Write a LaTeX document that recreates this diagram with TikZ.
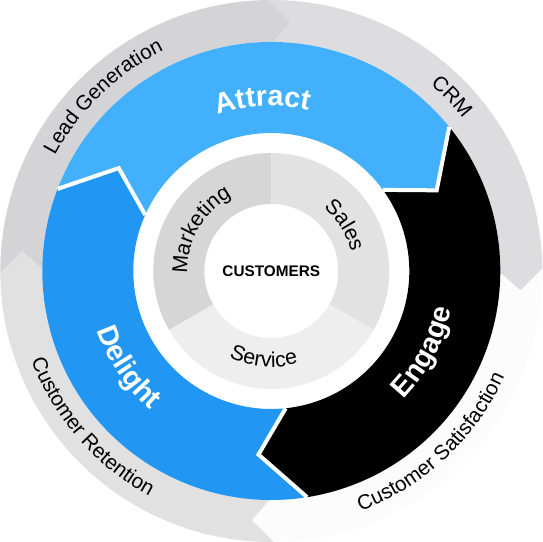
\documentclass[tikz,border=0pt]{standalone}
\usepackage{fontspec}
\setmainfont{Liberation Sans}
\usetikzlibrary{decorations.text}
\newcommand{\bigfont}{\fontsize{21.5}{25}\selectfont\bfseries}
\newcommand{\ringfont}{\fontsize{15.5}{18}\selectfont}
\newcommand{\hubfont}{\fontsize{16}{19}\selectfont}

\begin{document}
\begin{tikzpicture}[x=0.75pt,y=0.75pt,
  sepline/.style={draw=white, line width=3pt, line join=miter},
  arclabel/.style={decorate, decoration={text along path, text align=center, text={#1}}},
  whitelabel/.style={decorate, decoration={text along path, text align=center, text color=white, text={#1}}}]
	%set diagram size to 543 x 542, centre of the rings at (0,0)
	\useasboundingbox (-271.3,-271) rectangle (271.7,271);
	\fill[white] (-271.3,-271) rectangle (271.7,271);

	%Shape: Outer arrow [id:lead]
	\fill [color={rgb, 255:red, 212; green, 212; blue, 214 }] (180.5:271) arc[start angle=180.5, end angle=90.5, radius=271] -- (85.5:250) -- (89.5:229) arc[start angle=89.5, end angle=179.5, radius=229] -- (175.5:250) -- cycle ;
	%Shape: Outer arrow [id:crm]
	\fill [color={rgb, 255:red, 221; green, 221; blue, 223 }] (90.5:271) arc[start angle=90.5, end angle=0.5, radius=271] -- (-4.5:250) -- (-0.5:229) arc[start angle=-0.5, end angle=89.5, radius=229] -- (85.5:250) -- cycle ;
	%Shape: Outer arrow [id:satisfaction]
	\fill [color={rgb, 255:red, 252; green, 252; blue, 252 }] (0.5:271) arc[start angle=0.5, end angle=-89.5, radius=271] -- (-94.5:250) -- (-90.5:229) arc[start angle=-90.5, end angle=-0.5, radius=229] -- (-4.5:250) -- cycle ;
	%Shape: Outer arrow [id:retention]
	\fill [color={rgb, 255:red, 225; green, 225; blue, 225 }] (-89.5:271) arc[start angle=-89.5, end angle=-179.5, radius=271] -- (-184.5:250) -- (-180.5:229) arc[start angle=-180.5, end angle=-90.5, radius=229] -- (-94.5:250) -- cycle ;

	%Shape: Ring arrow [id:attract]
	\fill [color={rgb, 255:red, 66; green, 176; blue, 252 }] (159:229) arc[start angle=159, end angle=39, radius=229] -- (26:184) -- (36:138) arc[start angle=36, end angle=156, radius=138] -- (146:184) -- cycle ;
	%Shape: Ring arrow [id:engage]
	\fill [color=black] (39:229) arc[start angle=39, end angle=-81, radius=229] -- (-94:184) -- (-84:138) arc[start angle=-84, end angle=36, radius=138] -- (26:184) -- cycle ;
	%Shape: Ring arrow [id:delight]
	\fill [color={rgb, 255:red, 33; green, 150; blue, 243 }] (-81:229) arc[start angle=-81, end angle=-201, radius=229] -- (-214:184) -- (-204:138) arc[start angle=-204, end angle=-84, radius=138] -- (-94:184) -- cycle ;
	%Straight Lines [id:gaps]
	\draw [sepline] (159:229) -- (146:184) -- (156:138) ;
	\draw [sepline] (39:229) -- (26:184) -- (36:138) ;
	\draw [sepline] (-81:229) -- (-94:184) -- (-84:138) ;

	%Shape: Inner sector [id:marketing]
	\fill [color={rgb, 255:red, 214; green, 214; blue, 214 }] (90:118) arc[start angle=90, end angle=210, radius=118] -- (210:67) arc[start angle=210, end angle=90, radius=67] -- cycle ;
	%Shape: Inner sector [id:sales]
	\fill [color={rgb, 255:red, 226; green, 226; blue, 226 }] (-30:118) arc[start angle=-30, end angle=90, radius=118] -- (90:67) arc[start angle=90, end angle=-30, radius=67] -- cycle ;
	%Shape: Inner sector [id:service]
	\fill [color={rgb, 255:red, 238; green, 238; blue, 238 }] (210:118) arc[start angle=210, end angle=330, radius=118] -- (330:67) arc[start angle=330, end angle=210, radius=67] -- cycle ;

	% Text Node
	\node [font=\fontsize{11.5}{14}\selectfont\bfseries] (customers) at (0,0) {CUSTOMERS};

	% Text along arcs
	\path [arclabel={|\ringfont|Lead Generation}] (174:245) arc[start angle=174, end angle=94, radius=245] ;
	\path [arclabel={|\ringfont|CRM}] (64:245) arc[start angle=64, end angle=24, radius=245] ;
	\path [arclabel={|\ringfont|Customer Retention}] (176:256) arc[start angle=176, end angle=266, radius=256] ;
	\path [arclabel={|\ringfont|Customer Satisfaction}] (-92:256) arc[start angle=-92, end angle=-2, radius=256] ;
	\path [whitelabel={|\bigfont|Attract}] (133:165) arc[start angle=133, end angle=53, radius=165] ;
	\path [whitelabel={|\bigfont|Engage}] (-68:184) arc[start angle=-68, end angle=12, radius=184] ;
	\path [whitelabel={|\bigfont|Delight}] (174:184) arc[start angle=174, end angle=254, radius=184] ;
	\path [arclabel={|\hubfont|Marketing}] (200:84) arc[start angle=200, end angle=100, radius=84] ;
	\path [arclabel={|\hubfont|Sales}] (72:82) arc[start angle=72, end angle=-8, radius=82] ;
	\path [arclabel={|\hubfont|Service}] (225:96) arc[start angle=225, end angle=305, radius=96] ;

\end{tikzpicture}
\end{document}
